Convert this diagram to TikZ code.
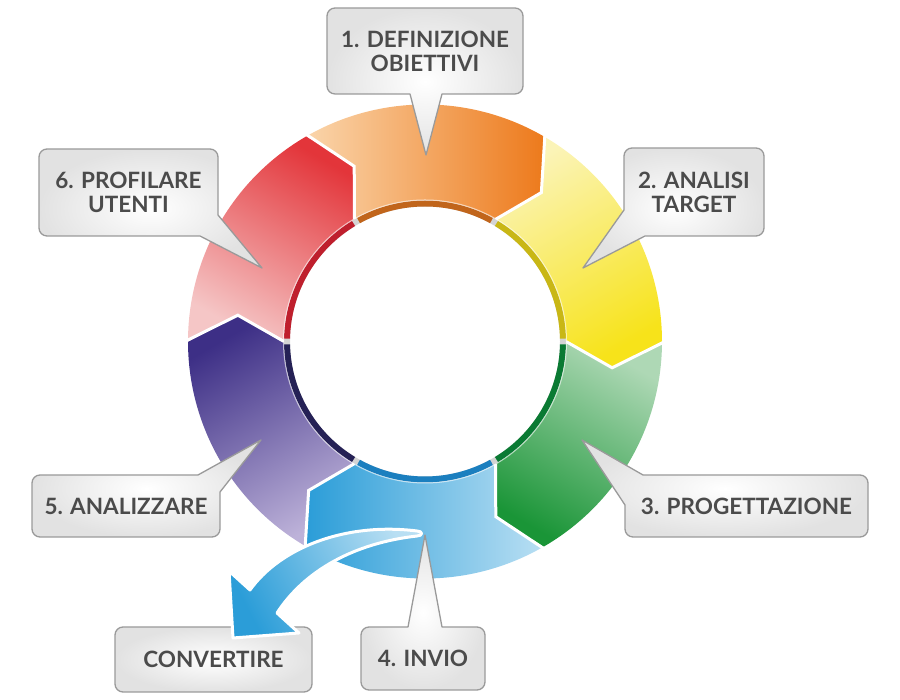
\documentclass[tikz,border=0pt]{standalone}
\usepackage{fontspec}
\setmainfont{Lato}
\definecolor{orL}{HTML}{FAD5AB}
\definecolor{orD}{HTML}{ED7A1C}
\definecolor{orB}{HTML}{C1651B}
\definecolor{yeL}{HTML}{FBF4B8}
\definecolor{yeD}{HTML}{F7E31A}
\definecolor{yeB}{HTML}{C9B715}
\definecolor{grL}{HTML}{AED8B5}
\definecolor{grD}{HTML}{1A9537}
\definecolor{grB}{HTML}{0A7A33}
\definecolor{blL}{HTML}{B9DFF3}
\definecolor{blD}{HTML}{2B9DD8}
\definecolor{blB}{HTML}{1B7FBF}
\definecolor{puL}{HTML}{BDB2D9}
\definecolor{puD}{HTML}{3D2F86}
\definecolor{puB}{HTML}{252155}
\definecolor{reL}{HTML}{F5C6C6}
\definecolor{reD}{HTML}{E3353A}
\definecolor{reB}{HTML}{BF1F2D}
\definecolor{bandgap}{HTML}{D4D4D4}
\definecolor{cborder}{HTML}{9A9A9A}
\definecolor{cfill}{HTML}{E2E2E2}
\definecolor{ctext}{HTML}{4B4B4B}
\tikzset{
  sepline/.style={white, line width=3pt, line join=miter},
  callout/.style={draw=cborder, line width=1.3pt, inner color=white, outer color=cfill, line join=round},
  lbl/.style={font=\bfseries\fontsize{22.5}{24}\selectfont, text=ctext, align=center, inner sep=0pt},
  swoosh/.style={draw=white, line width=3pt, top color=blD, bottom color=blL, shading angle=117.5, line join=round}
}
\begin{document}
\begin{tikzpicture}[x=1pt,y=1pt]
\useasboundingbox (0,0) rectangle (900,700);
\coordinate (C) at (425,358.5);
% ring segments
\begin{scope}[shift={(425,358.5)}]
\foreach \a/\lc/\dc in {120/orL/orD, 60/yeL/yeD, 0/grL/grD, -60/blL/blD, -120/puL/puD, -180/reL/reD}{
  \pgfmathsetmacro\b{\a-60}
  \pgfmathsetmacro\sa{\a-210}
  \pgfmathsetmacro\ta{\a-8}
  \pgfmathsetmacro\tb{\a-68}
  \shade[top color=\dc, bottom color=\lc, shading angle=\sa]
    (\a:237pt) arc[start angle=\a, end angle=\b, radius=237pt]
    -- (\tb:189pt) -- (\b:141pt) arc[start angle=\b, end angle=\a, radius=141pt]
    -- (\ta:189pt) -- cycle;
}
\foreach \a in {120,60,0,-60,-120,180}{
  \pgfmathsetmacro\ta{\a-8}
  \draw[sepline] (\a:240pt) -- (\ta:189pt) -- (\a:141pt);
}
\fill[bandgap, even odd rule] (0,0) circle[radius=141pt] (0,0) circle[radius=135pt];
\foreach \a/\bc in {120/orB, 60/yeB, 0/grB, -60/blB, -120/puB, -180/reB}{
  \pgfmathsetmacro\s{\a-1.2}
  \pgfmathsetmacro\e{\a-58.8}
  \draw[\bc, line width=6pt] (\s:138pt) arc[start angle=\s, end angle=\e, radius=138pt];
}
\draw[white, opacity=.6, line width=1pt] (0,0) circle[radius=141.5pt];
\end{scope}
% callouts
\draw[callout] (335,606) -- (410,606) -- (426,545) -- (442,606) -- (515,606) arc[start angle=-90,end angle=0,radius=8pt] -- (523,684) arc[start angle=0,end angle=90,radius=8pt] -- (335,692) arc[start angle=90,end angle=180,radius=8pt] -- (327,614) arc[start angle=180,end angle=270,radius=8pt] -- cycle;
\draw[callout] (645,464) -- (756,464) arc[start angle=-90,end angle=0,radius=8pt] -- (764,544) arc[start angle=0,end angle=90,radius=8pt] -- (632,552) arc[start angle=90,end angle=180,radius=8pt] -- (624,490) -- (583,432) -- cycle;
\draw[callout] (625,195) -- (625,171) arc[start angle=180,end angle=270,radius=8pt] -- (860,163) arc[start angle=-90,end angle=0,radius=8pt] -- (868,217) arc[start angle=0,end angle=90,radius=8pt] -- (643,225) -- (582,260) -- cycle;
\draw[callout] (47,464) -- (200,464) -- (262,432) -- (218,485) -- (218,543) arc[start angle=0,end angle=90,radius=8pt] -- (47,551) arc[start angle=90,end angle=180,radius=8pt] -- (39,472) arc[start angle=180,end angle=270,radius=8pt] -- cycle;
\draw[callout] (40,163) -- (212,163) arc[start angle=-90,end angle=0,radius=8pt] -- (220,208) -- (261,260) -- (198,225) -- (40,225) arc[start angle=90,end angle=180,radius=8pt] -- (32,171) arc[start angle=180,end angle=270,radius=8pt] -- cycle;
\draw[callout] (369,10) -- (477,10) arc[start angle=-90,end angle=0,radius=8pt] -- (485,65) arc[start angle=0,end angle=90,radius=8pt] -- (442,73) -- (425,165) -- (408,73) -- (369,73) arc[start angle=90,end angle=180,radius=8pt] -- (361,18) arc[start angle=180,end angle=270,radius=8pt] -- cycle;
\draw[callout, rounded corners=8pt] (115,8) rectangle (312,73);
% swoosh arrow
\draw[swoosh] (417,169) .. controls (345,178) and (280,152) .. (250,110) -- (229,129) -- (233,62) -- (299,67) -- (277,87) .. controls (305,130) and (355,157) .. (417,164) .. controls (423,164) and (423,169) .. (417,169) -- cycle;
% labels
\node[lbl] (t1) at (425,649) {1. DEFINIZIONE\\OBIETTIVI};
\node[lbl] (t2) at (694,508) {2. ANALISI\\TARGET};
\node[lbl] (t3) at (746.5,194) {3. PROGETTAZIONE};
\node[lbl] (t4) at (423,41.5) {4. INVIO};
\node[lbl] (t5) at (126,194) {5. ANALIZZARE};
\node[lbl] (t6) at (128.5,507.5) {6. PROFILARE\\UTENTI};
\node[lbl] (tc) at (213.5,40.5) {CONVERTIRE};
\end{tikzpicture}
\end{document}
